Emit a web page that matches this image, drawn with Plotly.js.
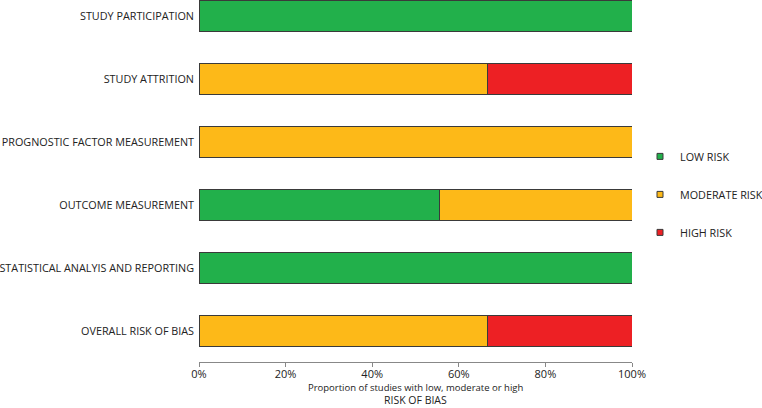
<!DOCTYPE html>
<html><head><meta charset="utf-8">
<script src="https://cdn.plot.ly/plotly-3.0.1.min.js"></script>
<style>html,body{margin:0;padding:0;background:#fff}#chart{width:762px;height:408px}</style>
</head><body><div id="chart"></div>
<script>
// Categories from bottom to top
const categories = ["OVERALL RISK OF BIAS","STATISTICAL ANALYIS AND REPORTING","OUTCOME MEASUREMENT","PROGNOSTIC FACTOR MEASUREMENT","STUDY ATTRITION","STUDY PARTICIPATION"];
const lowRisk = [0, 100, 55.6, 0, 0, 100];
const moderateRisk = [66.7, 0, 44.4, 100, 66.7, 0];
const highRisk = [33.3, 0, 0, 0, 33.3, 0];
const seriesNames = ["LOW RISK","MODERATE RISK","HIGH RISK"];
const colors = ["#22B04B","#FDB918","#ED2024"];
const tickVals = [0,20,40,60,80,100];
const tickText = ["0%","20%","40%","60%","80%","100%"];
const xTitleTop = "Proportion of studies with low, moderate or high";
const xTitleBottom = "RISK OF BIAS";

const series = [lowRisk, moderateRisk, highRisk];
const font = "Open Sans, sans-serif";
const traces = [];
series.forEach((vals,i)=>{
  traces.push({type:"bar",orientation:"h",x:vals,y:categories,name:seriesNames[i],
    marker:{color:colors[i],line:{color:"#3a3a3a",width:1}},width:0.49,showlegend:false,hoverinfo:"x+y"});
});
series.forEach((vals,i)=>{
  traces.push({type:"scatter",mode:"markers",x:[null],y:[null],name:seriesNames[i],legendgroup:"g"+i,
    marker:{symbol:"square",size:6,color:colors[i],line:{color:"#3a3a3a",width:1}},showlegend:true});
});
const layout = {
  width:762,height:408,paper_bgcolor:"#fff",plot_bgcolor:"#fff",
  margin:{l:199,r:130,t:0,b:46,autoexpand:false},
  barmode:"stack",
  font:{family:font,size:10.8,color:"#222"},
  xaxis:{range:[0,100],tickvals:tickVals,ticktext:tickText,showgrid:false,zeroline:false,
    showline:true,linecolor:"#888",linewidth:1,ticks:"outside",ticklen:4,tickcolor:"#888",
    tickfont:{size:11,color:"#222"},ticklabelstandoff:-2},
  yaxis:{type:"category",range:[-0.492,5.254],showgrid:false,zeroline:false,showline:false,ticks:"",
    tickfont:{size:10.8,color:"#222"},ticklabelstandoff:4},
  legend:{x:1.0185,y:0.608,xanchor:"left",yanchor:"top",traceorder:"grouped",tracegroupgap:19,
    font:{size:10.8,color:"#222"},itemwidth:30,bgcolor:"rgba(0,0,0,0)"},
  annotations:[
    {text:xTitleTop,xref:"paper",yref:"paper",x:0.5,y:-0.0691,xanchor:"center",yanchor:"middle",
      showarrow:false,borderpad:0,font:{size:9.5,color:"#222"}},
    {text:xTitleBottom,xref:"paper",yref:"paper",x:0.5,y:-0.1050,xanchor:"center",yanchor:"middle",
      showarrow:false,borderpad:0,font:{size:10.5,color:"#222"}}],
  showlegend:true
};
Plotly.newPlot("chart",traces,layout,{displayModeBar:false,staticPlot:true});
</script></body></html>
